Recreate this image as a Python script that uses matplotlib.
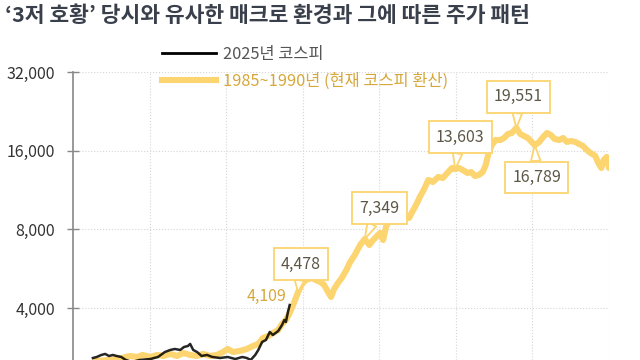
import matplotlib
matplotlib.use('Agg')
import matplotlib.pyplot as plt
from matplotlib.lines import Line2D
from matplotlib.ticker import FixedLocator, FuncFormatter, NullLocator

plt.rcParams['font.family'] = ['Noto Sans CJK KR', 'DejaVu Sans']

# 1985~1990 (converted to current KOSPI), x = trading-day index
y85_x = [29, 48, 64, 74, 84, 91, 101, 110, 118, 127, 136, 144, 153, 162, 170, 179, 188, 196, 202, 209,
         218, 227, 235, 242, 248, 255, 261, 268, 273, 278, 283, 289, 294, 299, 304, 312, 317, 323, 328, 333,
         337, 341, 346, 351, 357, 362, 368, 375, 381, 387, 392, 397, 401, 405, 409, 414, 421, 427, 434, 439,
         443, 448, 453, 458, 464, 470, 477, 483, 490, 495, 499, 504, 509, 515, 520, 525, 530, 535, 539, 543,
         547, 552, 558, 563, 568, 573, 579, 584, 589, 594, 599, 603, 609, 614, 619, 624, 629, 635, 640, 645,
         650, 656, 661, 666, 671, 676, 682, 686, 690, 693, 697, 700]
y85_v = [2510, 2532, 2577, 2623, 2600, 2647, 2600, 2647, 2623, 2671, 2623, 2693, 2647, 2623, 2671, 2623, 2647, 2717, 2790, 2717,
         2742, 2790, 2864, 2917, 3074, 3128, 3213, 3298, 3477, 3602, 3831, 4220, 4610, 4946, 5124, 5214, 5124, 5034, 4903, 4610,
         4411, 4733, 4990, 5214, 5595, 6004, 6386, 6973, 7349, 6973, 7286, 7547, 7750, 7286, 8243, 8689, 9001, 9001, 9165, 8845,
         9324, 9919, 10643, 11319, 12364, 12145, 12693, 12580, 13260, 13740, 13603, 13740, 13500, 13150, 13260, 12800, 12920, 13260, 14100, 15820,
         16825, 17580, 17580, 17895, 18540, 18700, 19551, 18540, 18215, 17895, 17280, 16789, 17280, 18050, 18700, 18370, 17740, 17580, 17895, 17280,
         17430, 17280, 16975, 16680, 16100, 15680, 15275, 14357, 13740, 14740, 15140, 13740]

# 2025 KOSPI
k25_x = [26, 31, 37, 42, 47, 52, 57, 63, 69, 77, 87, 101, 111, 120, 127, 133, 140, 145, 150, 153,
         157, 162, 168, 175, 182, 192, 202, 212, 221, 227, 232, 238, 242, 247, 252, 257, 261, 268, 273, 276,
         278, 281, 283]
k25_v = [2577, 2600, 2647, 2671, 2623, 2647, 2623, 2600, 2532, 2488, 2532, 2554, 2600, 2717, 2766, 2790, 2766, 2840, 2864, 2917,
         2766, 2717, 2623, 2647, 2600, 2577, 2600, 2554, 2600, 2577, 2532, 2647, 2766, 2968, 3021, 3241, 3156, 3269, 3447, 3602,
         3539, 3899, 4109]

y_ticks = [4000, 8000, 16000, 32000]
x_grid = [100, 200, 300, 400, 500, 600, 700]

# callouts: index into y85 series, label, offset (px)
call_idx = [32, 48, 70, 86, 91]
call_lbl = ['4,478', '7,349', '13,603', '19,551', '16,789']
call_off = [(3, 28), (15, 31), (5, 32), (2, 31), (2, -32)]

yellow = '#FCD470'
gold_txt = '#D6A83C'
box_txt = '#5C5746'

fig = plt.figure(figsize=(6.4, 3.6), dpi=100)
ax = fig.add_axes([73 / 640, 0, 536 / 640, 288 / 360])

ax.plot(y85_x, y85_v, color=yellow, lw=4.4, solid_capstyle='round', zorder=2)
ax.plot(k25_x, k25_v, color='black', lw=1.8, alpha=0.85, zorder=3)

ax.set_yscale('log')
ax.set_ylim(2532, 32000)
ax.set_xlim(0, 700)
ax.yaxis.set_major_locator(FixedLocator(y_ticks))
ax.yaxis.set_minor_locator(NullLocator())
ax.yaxis.set_major_formatter(FuncFormatter(lambda v, p: f'{int(v):,}'))
ax.xaxis.set_major_locator(FixedLocator(x_grid))
ax.tick_params(axis='x', length=0, labelbottom=False)
ax.tick_params(axis='y', direction='inout', length=8, width=1, color='#888888',
               labelsize=11.5, labelcolor='#333333', pad=9)

for s in ['top', 'right', 'bottom']:
    ax.spines[s].set_visible(False)
ax.spines['left'].set_color('#888888')
ax.spines['left'].set_linewidth(1.2)
ax.grid(True, color='#d6d6d6', lw=0.8, ls=':', zorder=0)

for i, lbl, off in zip(call_idx, call_lbl, call_off):
    ax.annotate(lbl, xy=(y85_x[i], y85_v[i]), xytext=off, textcoords='offset pixels',
                ha='center', va='center', fontsize=11.5, color=box_txt, zorder=5,
                bbox=dict(boxstyle='square,pad=0.45', fc='white', ec=yellow, lw=1.3),
                arrowprops=dict(arrowstyle='wedge,tail_width=0.6', fc='white', ec=yellow, lw=1.3,
                                shrinkA=0, shrinkB=0))

ax.annotate('4,109', xy=(k25_x[-1], k25_v[-1]), xytext=(-3, 9), textcoords='offset pixels',
            ha='right', va='center', fontsize=11.5, color=gold_txt, zorder=5)

handles = [Line2D([], [], color='black', lw=2),
           Line2D([], [], color=yellow, lw=4.4)]
ax.legend(handles, ['2025년 코스피', '1985~1990년 (현재 코스피 환산)'],
          loc='upper left', bbox_to_anchor=(162 / 640, 1 - 46 / 360), bbox_transform=fig.transFigure,
          frameon=False, borderpad=0, borderaxespad=0, fontsize=11.8,
          labelcolor=['#555555', gold_txt], handlelength=3.3, handletextpad=0.4, labelspacing=0.6)

fig.text(5 / 640, 1 - 15 / 360, '‘3저 호황’ 당시와 유사한 매크로 환경과 그에 따른 주가 패턴',
         fontsize=15.5, fontweight='bold', color='#3a404b', ha='left', va='center')

fig.savefig('out.png', dpi=100)
